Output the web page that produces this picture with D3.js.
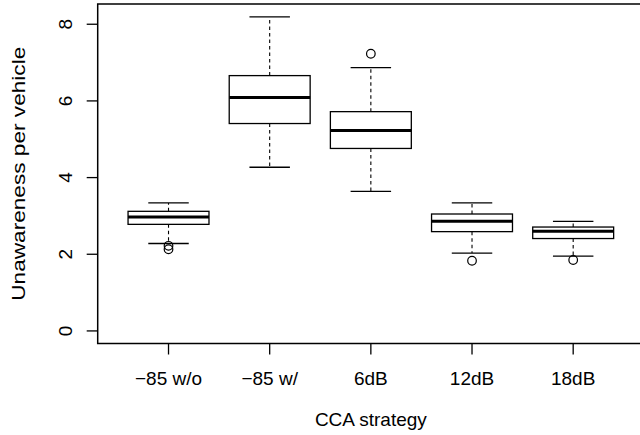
<!DOCTYPE html>
<html>
<head>
<meta charset="utf-8">
<script src="https://cdn.jsdelivr.net/npm/d3@7"></script>
<style>
  html, body { margin: 0; padding: 0; background: #fff; }
  svg { display: block; }
  text { font-family: "Liberation Sans", Arial, Helvetica, sans-serif; fill: #000; }
</style>
</head>
<body>
<svg id="chart" width="640" height="435"></svg>
<script>
// ---- data ----
const categories = ["\u221285 w/o", "\u221285 w/", "6dB", "12dB", "18dB"];
const whiskerLow  = [2.28, 4.27, 3.64, 2.03, 1.95];
const q1          = [2.78, 5.41, 4.76, 2.59, 2.41];
const median      = [2.97, 6.09, 5.23, 2.86, 2.60];
const q3          = [3.12, 6.66, 5.72, 3.05, 2.71];
const whiskerHigh = [3.34, 8.19, 6.87, 3.34, 2.86];
const outliers    = [[2.22, 2.13], [], [7.23], [1.83], [1.85]];
const yTicks      = [0, 2, 4, 6, 8];
const yDomain     = [-0.328, 8.528];
const xTitle = "CCA strategy";
const yTitle = "Unawareness per vehicle";

// ---- layout ----
const svg = d3.select("#chart");
const mLeft = 97.7, mRight = 644, mTop = 4, mBottom = 343.5;
const fontSize = 19;

const x = d3.scaleLinear().domain([0.3, categories.length + 0.7]).range([mLeft, mRight]);
const y = d3.scaleLinear().domain(yDomain).range([mBottom, mTop]);

const boxW = x(1.4) - x(1.0);   // half width 0.4 units
const capW = x(1.2) - x(1.0);   // half width 0.2 units

const data = categories.map((c, i) => ({
  c, i, pos: i + 1,
  lo: whiskerLow[i], q1: q1[i], med: median[i], q3: q3[i], hi: whiskerHigh[i], out: outliers[i]
}));

const g = svg.append("g");

// whiskers (dashed)
g.selectAll(".whisk-lo").data(data).join("line")
  .attr("x1", d => x(d.pos)).attr("x2", d => x(d.pos))
  .attr("y1", d => y(d.q1)).attr("y2", d => y(d.lo))
  .attr("stroke", "#000").attr("stroke-width", 1.1).attr("stroke-dasharray", "3.5,3");
g.selectAll(".whisk-hi").data(data).join("line")
  .attr("x1", d => x(d.pos)).attr("x2", d => x(d.pos))
  .attr("y1", d => y(d.q3)).attr("y2", d => y(d.hi))
  .attr("stroke", "#000").attr("stroke-width", 1.1).attr("stroke-dasharray", "3.5,3");

// caps
["lo", "hi"].forEach(k => {
  g.selectAll(".cap-" + k).data(data).join("line")
    .attr("class", "cap-" + k)
    .attr("x1", d => x(d.pos) - capW).attr("x2", d => x(d.pos) + capW)
    .attr("y1", d => y(d[k])).attr("y2", d => y(d[k]))
    .attr("stroke", "#000").attr("stroke-width", 1.3);
});

// boxes
g.selectAll(".box").data(data).join("rect")
  .attr("x", d => x(d.pos) - boxW).attr("width", 2 * boxW)
  .attr("y", d => y(d.q3)).attr("height", d => y(d.q1) - y(d.q3))
  .attr("fill", "#fff").attr("stroke", "#000").attr("stroke-width", 1.3);

// medians
g.selectAll(".med").data(data).join("line")
  .attr("x1", d => x(d.pos) - boxW).attr("x2", d => x(d.pos) + boxW)
  .attr("y1", d => y(d.med)).attr("y2", d => y(d.med))
  .attr("stroke", "#000").attr("stroke-width", 3);

// outliers
const outPts = data.flatMap(d => d.out.map(v => ({ pos: d.pos, v })));
g.selectAll(".out").data(outPts).join("circle")
  .attr("cx", d => x(d.pos)).attr("cy", d => y(d.v)).attr("r", 4.3)
  .attr("fill", "none").attr("stroke", "#000").attr("stroke-width", 1.2);

// plot frame
svg.append("rect")
  .attr("x", mLeft).attr("y", mTop).attr("width", mRight - mLeft).attr("height", mBottom - mTop)
  .attr("fill", "none").attr("stroke", "#000").attr("stroke-width", 1.5);

// y axis
const yAxisG = svg.append("g");
yAxisG.selectAll("line").data(yTicks).join("line")
  .attr("x1", mLeft - 11).attr("x2", mLeft)
  .attr("y1", d => y(d)).attr("y2", d => y(d))
  .attr("stroke", "#000").attr("stroke-width", 1.3);
yAxisG.selectAll("text").data(yTicks).join("text")
  .attr("transform", d => `translate(71.5,${y(d)}) rotate(-90)`)
  .attr("text-anchor", "middle")
  .attr("font-size", fontSize)
  .text(d => d);

// x axis
const xAxisG = svg.append("g");
xAxisG.selectAll("line").data(data).join("line")
  .attr("x1", d => x(d.pos)).attr("x2", d => x(d.pos))
  .attr("y1", mBottom).attr("y2", mBottom + 11)
  .attr("stroke", "#000").attr("stroke-width", 1.3);
xAxisG.selectAll("text").data(data).join("text")
  .attr("x", d => x(d.pos)).attr("y", 385)
  .attr("text-anchor", "middle")
  .attr("font-size", fontSize)
  .text(d => d.c);

// titles
svg.append("text")
  .attr("x", (mLeft + mRight) / 2).attr("y", 426)
  .attr("text-anchor", "middle").attr("font-size", fontSize)
  .text(xTitle);
svg.append("text")
  .attr("transform", `translate(25,${(mTop + mBottom) / 2}) rotate(-90)`)
  .attr("text-anchor", "middle").attr("font-size", fontSize)
  .attr("textLength", 254).attr("lengthAdjust", "spacingAndGlyphs")
  .text(yTitle);
</script>
</body>
</html>
